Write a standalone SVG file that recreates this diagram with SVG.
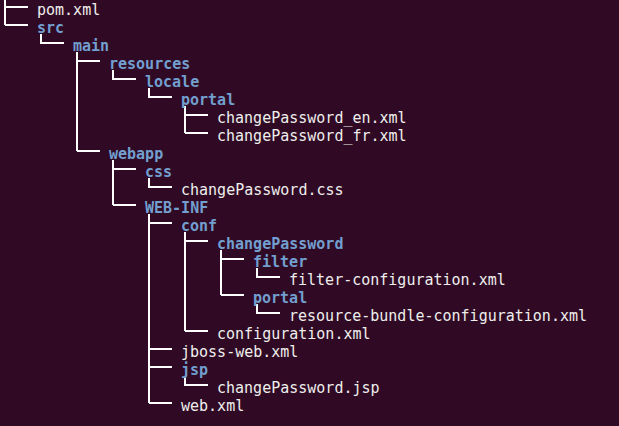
<svg xmlns="http://www.w3.org/2000/svg" width="619" height="426" viewBox="0 0 619 426">
<style>
text{font-family:"DejaVu Sans Mono","Liberation Mono",monospace;font-size:15px}
.f{fill:#eeeeec}
.d{fill:#729fcf;font-weight:bold}
#connectors path{stroke:#ffffff;stroke-width:2;fill:none}
</style>
<rect width="619" height="426" fill="#300a24"/>
<g id="connectors">
<path d="M5 0V25M5 7H28M5 25H28"/>
<path d="M41 34V43H64"/>
<path d="M77 52V151M77 61H100M77 151H100"/>
<path d="M113 70V79H136"/>
<path d="M149 88V97H172"/>
<path d="M185 106V133M185 115H208M185 133H208"/>
<path d="M113 160V205M113 169H136M113 205H136"/>
<path d="M149 178V187H172"/>
<path d="M149 214V403M149 223H172M149 349H172M149 367H172M149 403H172"/>
<path d="M185 232V331M185 241H208M185 331H208"/>
<path d="M221 250V295M221 259H244M221 295H244"/>
<path d="M257 268V277H280"/>
<path d="M257 304V313H280"/>
<path d="M185 376V385H208"/>
</g>
<g id="pom"><text class="f" x="37" y="15">pom.xml</text></g>
<g id="src"><text class="d" x="37" y="33">src</text></g>
<g id="main"><text class="d" x="73" y="51">main</text></g>
<g id="resources"><text class="d" x="109" y="69">resources</text></g>
<g id="locale"><text class="d" x="145" y="87">locale</text></g>
<g id="portal1"><text class="d" x="181" y="105">portal</text></g>
<g id="cp_en"><text class="f" x="217" y="123">changePassword_en.xml</text></g>
<g id="cp_fr"><text class="f" x="217" y="141">changePassword_fr.xml</text></g>
<g id="webapp"><text class="d" x="109" y="159">webapp</text></g>
<g id="css"><text class="d" x="145" y="177">css</text></g>
<g id="cp_css"><text class="f" x="181" y="195">changePassword.css</text></g>
<g id="webinf"><text class="d" x="145" y="213">WEB-INF</text></g>
<g id="conf"><text class="d" x="181" y="231">conf</text></g>
<g id="changePassword"><text class="d" x="217" y="249">changePassword</text></g>
<g id="filter"><text class="d" x="253" y="267">filter</text></g>
<g id="filter_conf"><text class="f" x="289" y="285">filter-configuration.xml</text></g>
<g id="portal2"><text class="d" x="253" y="303">portal</text></g>
<g id="rb_conf"><text class="f" x="289" y="321">resource-bundle-configuration.xml</text></g>
<g id="configuration"><text class="f" x="217" y="339">configuration.xml</text></g>
<g id="jboss"><text class="f" x="181" y="357">jboss-web.xml</text></g>
<g id="jsp"><text class="d" x="181" y="375">jsp</text></g>
<g id="cp_jsp"><text class="f" x="217" y="393">changePassword.jsp</text></g>
<g id="webxml"><text class="f" x="181" y="411">web.xml</text></g>
</svg>
